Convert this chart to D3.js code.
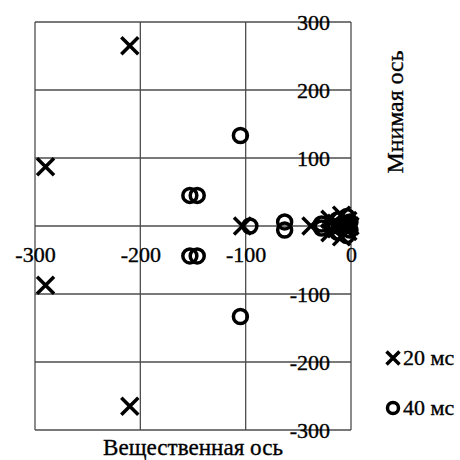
<!DOCTYPE html>
<html>
<head>
<meta charset="utf-8">
<script src="https://cdn.jsdelivr.net/npm/d3@7"></script>
<style>
  body { margin: 0; background: #fff; }
</style>
</head>
<body>
<div id="chart"></div>
<script>
// poles, 20 ms
const re20 = [-210, -210, -290, -290, -103, -38, -20, -20, -14, -14, -9, -9, -6, -3, -3, -1];
const im20 = [265, -265, 87, -87, 0, 0, 10, -10, 4, -4, 16, -16, 0, 8, -8, 0];
// poles, 40 ms
const re40 = [-153, -146, -153, -146, -105, -105, -96, -63, -63, -28, -28, -18, -13, -13, -8, -6, -4, -4, -1, -1];
const im40 = [45, 45, -44, -44, 133, -133, 0, 6, -6, 3, -3, 0, 9, -9, 0, 4, 14, -14, 6, -6];

const xTicks = [-300, -200, -100, 0];
const yTicks = [-300, -200, -100, 0, 100, 200, 300];
const legendLabels = ["20 мс", "40 мс"];
const xTitle = "Вещественная ось";
const yTitle = "Мнимая ось";

const fontFamily = "'Liberation Serif'";
const width = 460, height = 460;
const plotLeft = 35, plotRight = 351, plotTop = 22, plotBottom = 430;

const svg = d3.select("#chart").append("svg")
    .attr("width", width)
    .attr("height", height);

const x = d3.scaleLinear().domain([-300, 0]).range([plotLeft, plotRight]);
const y = d3.scaleLinear().domain([-300, 300]).range([plotBottom, plotTop]);

// grid
const grid = svg.append("g").style("stroke", "#4d4d4d").style("stroke-width", 1.3);
grid.selectAll("line.v").data(xTicks).enter().append("line")
    .attr("x1", d => x(d)).attr("x2", d => x(d))
    .attr("y1", plotTop).attr("y2", plotBottom);
grid.selectAll("line.h").data(yTicks).enter().append("line")
    .attr("y1", d => y(d)).attr("y2", d => y(d))
    .attr("x1", plotLeft).attr("x2", plotRight);

// text look: serif, slightly heavy like the scan
function textStyle(sel, size) {
    sel.style("fill", "#000").style("stroke", "#000").style("stroke-width", 0.35)
        .style("font-family", fontFamily).style("font-size", size + "px");
}

// tick labels
const yAxis = svg.append("g")
    .attr("transform", "translate(" + plotRight + ",0)")
    .call(d3.axisLeft(y).tickValues(yTicks.filter(d => d !== 0))
        .tickSize(0).tickPadding(21).tickFormat(d => String(d)));
yAxis.select(".domain").remove();
yAxis.selectAll("text").attr("dy", "0.34em").call(textStyle, 22);

const xAxis = svg.append("g")
    .attr("transform", "translate(0," + y(0) + ")")
    .call(d3.axisBottom(x).tickValues(xTicks)
        .tickSize(0).tickPadding(20).tickFormat(d => String(d)));
xAxis.select(".domain").remove();
xAxis.selectAll("text").call(textStyle, 22);

// markers
const cross = d3.symbol().type(d3.symbolTimes).size(190);
const ring = d3.symbol().type(d3.symbolCircle).size(154);

svg.append("g").selectAll("path")
    .data(re40.map((r, i) => [r, im40[i]]))
    .enter().append("path")
    .attr("d", ring)
    .attr("transform", d => "translate(" + x(d[0]) + "," + y(d[1]) + ")")
    .style("fill", "none").style("stroke", "#000").style("stroke-width", 3.5);

svg.append("g").selectAll("path")
    .data(re20.map((r, i) => [r, im20[i]]))
    .enter().append("path")
    .attr("d", cross)
    .attr("transform", d => "translate(" + x(d[0]) + "," + y(d[1]) + ")")
    .style("fill", "none").style("stroke", "#000").style("stroke-width", 3.5);

// titles
svg.append("text")
    .attr("x", (plotLeft + plotRight) / 2).attr("y", 455)
    .attr("text-anchor", "middle")
    .attr("textLength", 180).attr("lengthAdjust", "spacingAndGlyphs")
    .call(textStyle, 24)
    .text(xTitle);

svg.append("text")
    .attr("transform", "translate(403,112) rotate(-90)")
    .attr("text-anchor", "middle")
    .attr("textLength", 123).attr("lengthAdjust", "spacingAndGlyphs")
    .call(textStyle, 24)
    .text(yTitle);

// legend
const legend = svg.append("g").attr("transform", "translate(393,358)");
legend.append("path")
    .attr("d", d3.symbol().type(d3.symbolTimes).size(112))
    .style("fill", "none").style("stroke", "#000").style("stroke-width", 3.5);
legend.append("path")
    .attr("d", d3.symbol().type(d3.symbolCircle).size(95))
    .attr("transform", "translate(0,50)")
    .style("fill", "none").style("stroke", "#000").style("stroke-width", 3.5);
legend.selectAll("text").data(legendLabels).enter().append("text")
    .attr("x", 10).attr("y", (d, i) => i * 50 + 7)
    .call(textStyle, 22)
    .text(d => d);
</script>
</body>
</html>
